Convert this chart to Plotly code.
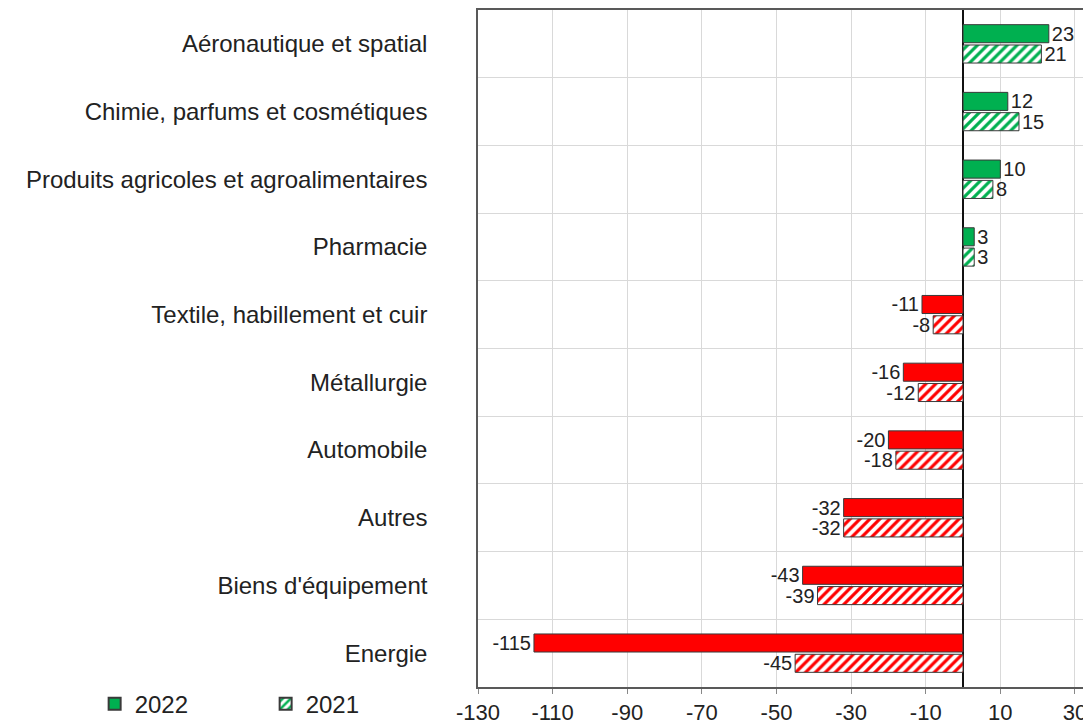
import plotly.graph_objects as go

categories = [
    "Aéronautique et spatial",
    "Chimie, parfums et cosmétiques",
    "Produits agricoles et agroalimentaires",
    "Pharmacie",
    "Textile, habillement et cuir",
    "Métallurgie",
    "Automobile",
    "Autres",
    "Biens d'équipement",
    "Energie",
]
values_2022 = [23, 12, 10, 3, -11, -16, -20, -32, -43, -115]
values_2021 = [21, 15, 8, 3, -8, -12, -18, -32, -39, -45]
tick_values = [-130, -110, -90, -70, -50, -30, -10, 10, 30]

GREEN = "#00B050"
RED = "#FF0000"
FONT = "Liberation Sans, Arial, sans-serif"
TXT = "#222222"
FS = 24
FS_LABEL = 20
FS_TICK = 22


def colors(vals):
    return [GREEN if v >= 0 else RED for v in vals]


fig = go.Figure()
fig.add_trace(go.Bar(
    name="2022",
    y=categories,
    x=values_2022,
    orientation="h",
    marker=dict(color=colors(values_2022), line=dict(color="#3a3a3a", width=1)),
    text=[str(v) for v in values_2022],
    textposition="outside",
    constraintext="none",
    textfont=dict(family=FONT, size=FS_LABEL, color=TXT),
    cliponaxis=False,
))
fig.add_trace(go.Bar(
    name="2021",
    y=categories,
    x=values_2021,
    orientation="h",
    marker=dict(
        color="white",
        line=dict(color="#3a3a3a", width=1),
        pattern=dict(shape="/", fgcolor=colors(values_2021), bgcolor="white",
                     size=7, solidity=0.45, fillmode="replace"),
    ),
    text=[str(v) for v in values_2021],
    textposition="outside",
    constraintext="none",
    textfont=dict(family=FONT, size=FS_LABEL, color=TXT),
    cliponaxis=False,
))

fig.update_layout(
    width=1083,
    height=718,
    margin=dict(l=470, r=0, t=2, b=39, autoexpand=False),
    paper_bgcolor="white",
    plot_bgcolor="white",
    barmode="group",
    bargap=0.4,
    bargroupgap=0.11,
    font=dict(family=FONT, size=FS, color=TXT),
    showlegend=True,
    legend=dict(
        orientation="h",
        xref="container", yref="container",
        x=0.080, y=0.0306,
        xanchor="left", yanchor="middle",
        entrywidth=126, entrywidthmode="pixels",
        font=dict(family=FONT, size=FS, color=TXT),
        itemsizing="constant",
        bgcolor="rgba(0,0,0,0)",
    ),
    xaxis=dict(
        range=[-130, 34.3],
        tickvals=tick_values,
        ticktext=[str(t) for t in tick_values],
        showgrid=True,
        gridcolor="#d9d9d9",
        gridwidth=1,
        zeroline=True,
        zerolinecolor="#111111",
        zerolinewidth=1.5,
        showline=True,
        linecolor="#595959",
        linewidth=1.5,
        mirror=True,
        ticks="outside",
        ticklen=5,
        tickcolor="#888888",
        ticklabelstandoff=0,
        tickfont=dict(family=FONT, size=FS_TICK, color=TXT),
        automargin=False,
        fixedrange=True,
    ),
    yaxis=dict(
        categoryorder="array",
        categoryarray=categories,
        autorange="reversed",
        tickson="boundaries",
        showgrid=True,
        gridcolor="#d9d9d9",
        gridwidth=1,
        showline=True,
        linecolor="#595959",
        linewidth=1.5,
        ticks="",
        ticklabelstandoff=44,
        tickfont=dict(family=FONT, size=FS, color=TXT),
        automargin=False,
        fixedrange=True,
    ),
)

fig.write_html("out.html")
